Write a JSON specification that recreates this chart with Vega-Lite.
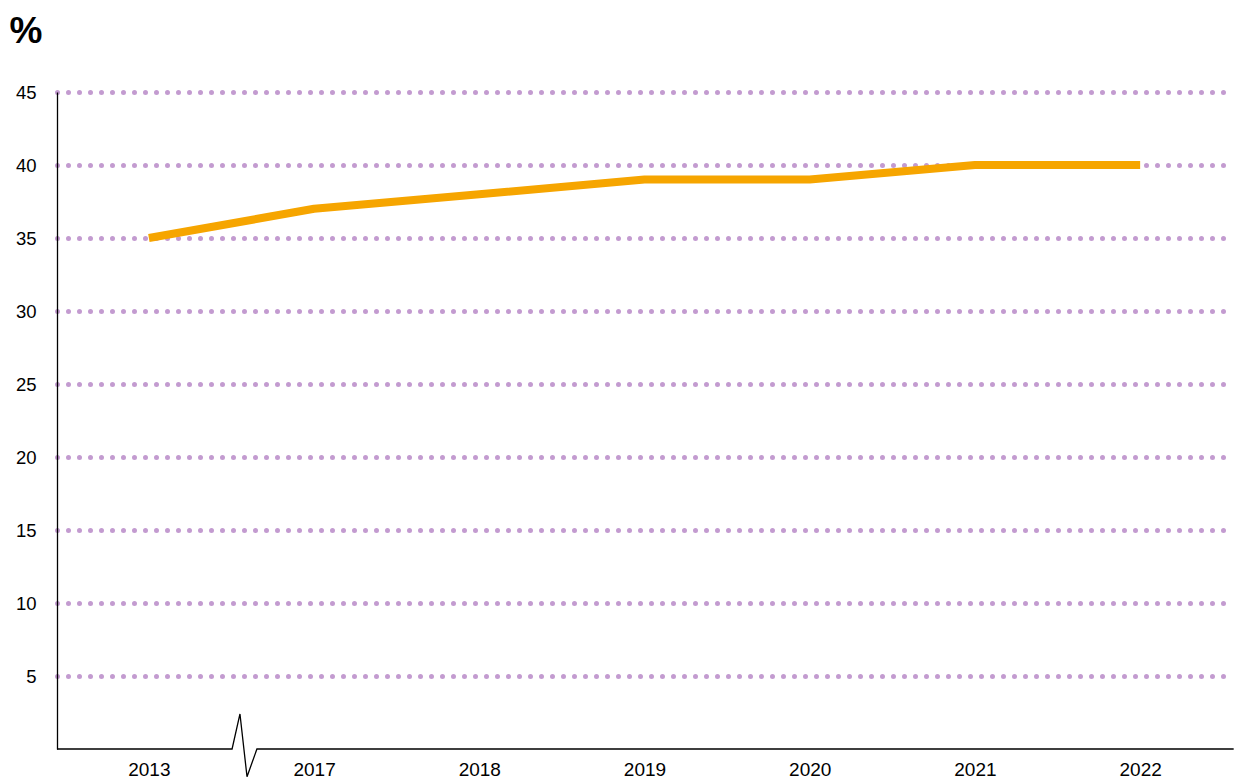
{
  "$schema": "https://vega.github.io/schema/vega-lite/v6.json",
  "width": 1175,
  "height": 657,
  "autosize": {"type": "none"},
  "padding": {"left": 57, "top": 92, "right": 2, "bottom": 29},
  "background": "white",
  "config": {
    "view": {"stroke": null},
    "font": "Liberation Sans"
  },
  "layer": [
    {
      "data": {"values": [
        {"year": "2013", "value": 35},
        {"year": "2017", "value": 37},
        {"year": "2018", "value": 38},
        {"year": "2019", "value": 39},
        {"year": "2020", "value": 39},
        {"year": "2021", "value": 40},
        {"year": "2022", "value": 40}
      ]},
      "mark": {"type": "line", "color": "#f6a500", "strokeWidth": 8, "strokeCap": "butt", "strokeJoin": "round"},
      "encoding": {
        "x": {
          "field": "year", "type": "ordinal", "sort": null,
          "scale": {"type": "point", "padding": 0.556},
          "axis": {"title": null, "domain": false, "ticks": false, "labelAngle": 0, "labelPadding": 11, "grid": false,
            "labelFont": "Liberation Sans", "labelFontSize": 19, "labelColor": "#000000"}
        },
        "y": {
          "field": "value", "type": "quantitative",
          "scale": {"domain": [0, 45], "nice": false, "zero": true},
          "axis": {
            "values": [5, 10, 15, 20, 25, 30, 35, 40, 45],
            "labelFont": "Liberation Sans", "labelFontSize": 18.5, "labelColor": "#000000",
            "title": "%", "titleAngle": 0, "titleX": -48, "titleY": -50,
            "titleAlign": "left", "titleBaseline": "alphabetic",
            "titleFontSize": 37, "titleFontWeight": "bold", "titleFont": "Liberation Sans", "titleColor": "#000000",
            "domain": true, "domainColor": "#000000", "domainWidth": 1.3,
            "ticks": false, "labelPadding": 21,
            "grid": true, "gridColor": "#c39bd0", "gridWidth": 5, "gridDash": [0, 11], "gridCap": "round"
          }
        }
      }
    },
    {
      "data": {"values": [
        {"px": 0, "py": 0},
        {"px": 1.043, "py": 0},
        {"px": 1.09, "py": 2.4},
        {"px": 1.132, "py": -1.9},
        {"px": 1.191, "py": 0},
        {"px": 7.01, "py": 0}
      ]},
      "mark": {"type": "line", "color": "#000000", "strokeWidth": 1.3, "clip": false},
      "encoding": {
        "x": {"field": "px", "type": "quantitative", "scale": {"domain": [0, 7], "nice": false, "zero": false}, "axis": null},
        "y": {"field": "py", "type": "quantitative"},
        "order": {"field": "px"}
      }
    }
  ],
  "resolve": {"scale": {"x": "independent"}}
}
